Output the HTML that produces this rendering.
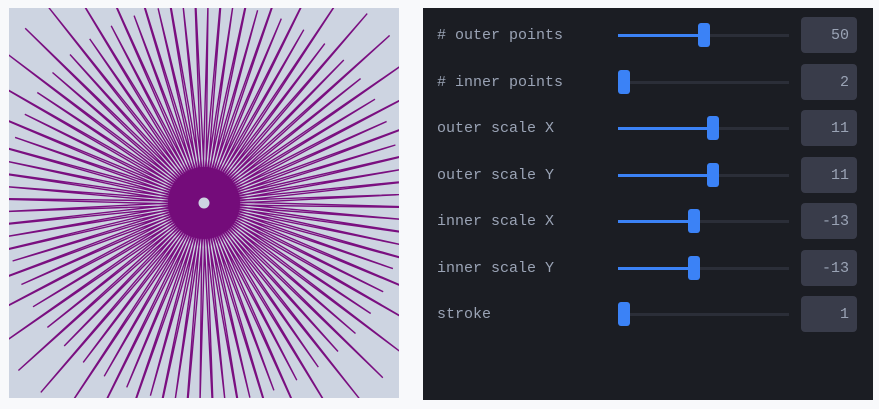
<!DOCTYPE html>
<html><head><meta charset="utf-8"><style>
html,body{margin:0;width:879px;height:409px;overflow:hidden}
body{background:#f8f9fb;position:relative;font-family:"Liberation Mono",monospace}
#art{position:absolute;left:9px;top:8px}
#panel{position:absolute;left:423px;top:8px;width:450px;height:392px;background:#1b1d23}
.row{position:absolute;left:0;width:450px;height:36px}
.lbl{position:absolute;left:14px;top:10px;font-size:15px;color:#9aa3b5}
.track{position:absolute;left:195px;top:17px;width:171px;height:3px;background:#2b2e38}
.fill{position:absolute;left:0;top:0;height:3px;background:#3b82f6}
.thumb{position:absolute;top:-11px;width:12px;height:24px;border-radius:3px;background:#3b82f6}
.val{position:absolute;left:378px;top:0;width:56px;height:36px;border-radius:4px;background:#393c4a;color:#9aa3b5;font-size:15px;text-align:right;box-sizing:border-box;padding:10px 8px 0 0}
</style></head><body>
<svg id="art" width="390" height="390" viewBox="0 0 390 390">
<rect width="390" height="390" fill="#cdd4e1"/>
<g id="rays" stroke="#7a0f80" stroke-width="1.4" fill="none"></g>
<circle cx="195" cy="195" r="36" fill="#740c7a"/>
<circle cx="195" cy="195" r="5.5" fill="#cdd4e1"/>
</svg>
<div id="panel"></div>
<script>
const labels=["# outer points","# inner points","outer scale X","outer scale Y","inner scale X","inner scale Y","stroke"];
const values=[50,2,11,11,-13,-13,1];
const fracs=[0.5,0,0.56,0.56,0.44,0.44,0];
const outerPoints=50;
const longR=[250,200];
const panel=document.getElementById('panel');
labels.forEach((l,i)=>{
 const r=document.createElement('div');r.className='row';r.style.top=(9+i*46.5)+'px';
 
 
 const t=document.createElement('div');t.className='lbl';t.textContent=l;
 
 
 const tr=document.createElement('div');tr.className='track';
 
 
 const x=fracs[i]*159;
 const f=document.createElement('div');f.className='fill';f.style.width=x+'px';
 const th=document.createElement('div');th.className='thumb';th.style.left=x+'px';
 
 
 tr.appendChild(f);tr.appendChild(th);
 const v=document.createElement('div');v.className='val';v.textContent=values[i];
 
 
 r.appendChild(t);r.appendChild(tr);r.appendChild(v);panel.appendChild(r);
});
const g=document.getElementById('rays');
const n=outerPoints*2;
let d='';
for(let i=0;i<n;i++){
 const a=i/n*Math.PI*2+0.02, R=longR[i%2], w=0.05;
 const p=(ang,r)=>(195+r*Math.cos(ang)).toFixed(1)+' '+(195+r*Math.sin(ang)).toFixed(1);
 d+='M'+p(a-w,30)+'L'+p(a,R)+'L'+p(a+w,30);
}
const path=document.createElementNS('http://www.w3.org/2000/svg','path');
path.setAttribute('d',d);


g.appendChild(path);
</script>
</body></html>
